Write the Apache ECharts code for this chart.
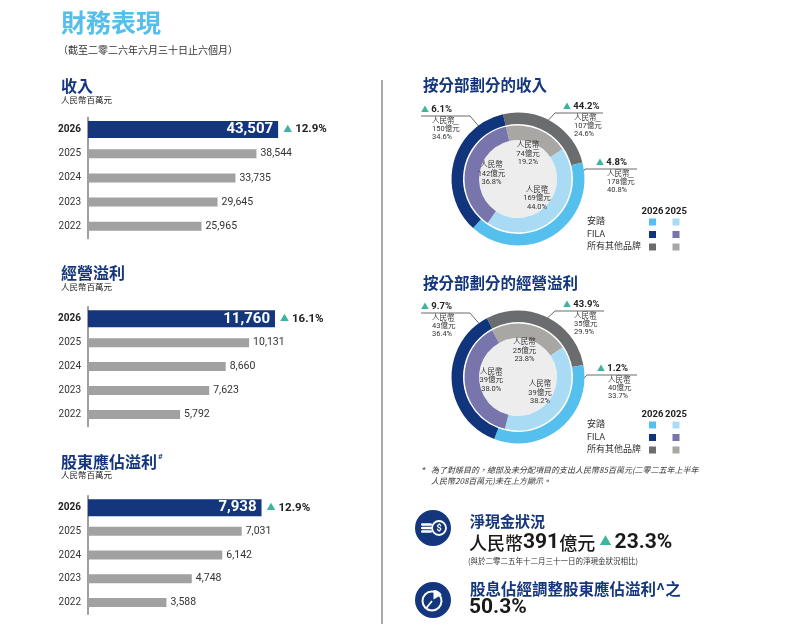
<!DOCTYPE html>
<html>
<head>
<meta charset="utf-8">
<script src="https://cdn.jsdelivr.net/npm/echarts@6/dist/echarts.min.js"></script>
<style>
  html, body { margin: 0; padding: 0; background: #fff; }
  #main { width: 791px; height: 624px; }
</style>
</head>
<body>
<div id="main"></div>
<script>
// ---- data ----
const years = ['2026', '2025', '2024', '2023', '2022'];
const revenue = [43507, 38544, 33735, 29645, 25965];
const revenueGrowth = '12.9%';
const opProfit = [11760, 10131, 8660, 7623, 5792];
const opGrowth = '16.1%';
const netProfit = [7938, 7031, 6142, 4748, 3588];
const netGrowth = '12.9%';

// segments: 安踏, FILA, 所有其他品牌 (人民幣億元, %)
const segments = ['安踏', 'FILA', '所有其他品牌'];
const segRev2026 = [178, 150, 107];
const segRevShare2026 = [40.8, 34.6, 24.6];
const segRevGrowth = [4.8, 6.1, 44.2];
const segRev2025 = [169, 142, 74];
const segRevShare2025 = [44.0, 36.8, 19.2];

const segOp2026 = [40, 43, 35];
const segOpShare2026 = [33.7, 36.4, 29.9];
const segOpGrowth = [1.2, 9.7, 43.9];
const segOp2025 = [39, 39, 25];
const segOpShare2025 = [38.2, 38.0, 23.8];

const netCash = 391;
const netCashGrowth = '23.3%';
const payoutRatio = '50.3%';

// ---- styles ----
const NAVY = '#13367C';
const TEAL = '#3DB49B';
const FONT = 'Roboto, "Noto Sans CJK TC", sans-serif';
const NARROW = '"Liberation Sans Narrow", Roboto, "Noto Sans CJK TC", sans-serif';
const CJK = '"Noto Sans CJK TC", sans-serif';
const c2026 = ['#55C0EE', '#11357C', '#6B6C6E'];
const c2025 = ['#A9DCF4', '#7775AC', '#A9A7A3'];
const pieOrder = [2, 0, 1]; // clockwise from the top: others, 安踏, FILA

const grids = [], xAxes = [], yAxes = [], series = [], graphics = [];

function fmt(v) { return v.toLocaleString('en-US'); }

function barBlock(i, values, growth, top, height, max, width) {
  grids.push({ left: 88, top: top, width: width, height: height });
  xAxes.push({ gridIndex: i, type: 'value', min: 0, max: max, show: false });
  for (let k = 0; k < 3; k++) {
    yAxes.push({
      gridIndex: i, type: 'category', data: years, inverse: true, show: k === 0,
      axisLine: { show: true, lineStyle: { color: '#7f7f7f', width: 1.5 } },
      axisTick: { show: false },
      axisLabel: {
        margin: 7, fontSize: 10, color: '#333', fontFamily: NARROW,
        formatter: (v, idx) => idx === 0 ? '{b|' + v + '}' : v,
        rich: { b: { fontSize: 10, fontWeight: 'bold', color: '#222', fontFamily: NARROW } }
      }
    });
  }
  const y0 = i * 3;
  series.push({
    type: 'bar', xAxisIndex: i, yAxisIndex: y0, barWidth: 17, silent: true,
    data: values.map((v, j) => j === 0 ? v : '-'),
    itemStyle: { color: NAVY },
    label: { show: true, position: 'insideRight', distance: 5, color: '#fff',
      fontSize: 15, fontWeight: 'bold', fontFamily: NARROW, formatter: p => fmt(p.value) }
  });
  series.push({
    type: 'bar', xAxisIndex: i, yAxisIndex: y0 + 1, barWidth: 9, silent: true,
    data: values.map((v, j) => j === 0 ? '-' : v),
    itemStyle: { color: '#A1A1A1' },
    label: { show: true, position: 'right', distance: 4, color: '#333',
      fontSize: 10.5, fontFamily: NARROW, formatter: p => fmt(p.value) }
  });
  series.push({
    type: 'bar', xAxisIndex: i, yAxisIndex: y0 + 2, barWidth: 17, silent: true,
    data: values.map((v, j) => j === 0 ? v : '-'),
    itemStyle: { color: 'rgba(0,0,0,0)' },
    label: { show: true, position: 'right', distance: 5,
      formatter: '{t|▲}{g|' + growth + '}',
      rich: {
        t: { color: TEAL, fontSize: 9, fontFamily: FONT, padding: [0, 3, 0, 0] },
        g: { color: '#222', fontSize: 11.5, fontWeight: 'bold', fontFamily: NARROW }
      } }
  });
}

barBlock(0, revenue, revenueGrowth, 117.4, 121, 50000, 218.5);
barBlock(1, opProfit, opGrowth, 306.8, 119.6, 15000, 238.5);
barBlock(2, netProfit, netGrowth, 495.8, 118.5, 10000, 218.6);

function txt(x, y, text, size, opts) {
  graphics.push({
    type: 'text', x: x, y: y, silent: true,
    style: Object.assign({
      text: text, fontSize: size, fontFamily: FONT, fill: '#333',
      align: 'left', verticalAlign: 'middle', textAlign: 'left', textVerticalAlign: 'middle'
    }, opts || {})
  });
}

// annotations: offsets relative to the donut centre (layout only)
function donut(cx, cy, start26, start25, amt26, share26, growth, amt25, share25, annot, legendY) {
  series.push({
    type: 'pie', center: [cx, cy], radius: [0, 39], silent: true, label: { show: false },
    itemStyle: { borderWidth: 0 },
    data: [{ value: 1, itemStyle: { color: '#EDEDED' } }]
  });
  series.push({
    type: 'pie', center: [cx, cy], radius: [39, 53.5], startAngle: start25, silent: true,
    label: { show: false }, itemStyle: { borderWidth: 0 },
    data: pieOrder.map(k => ({ name: segments[k], value: share25[k], itemStyle: { color: c2025[k] } }))
  });
  series.push({
    type: 'pie', center: [cx, cy], radius: [0, 48], startAngle: start25, silent: true,
    itemStyle: { borderWidth: 0, color: 'rgba(0,0,0,0)' },
    label: {
      show: true, position: 'inside', color: '#333', fontSize: 7.5, lineHeight: 8.5,
      fontFamily: NARROW,
      formatter: p => {
        const k = pieOrder[p.dataIndex];
        return '人民幣\n' + amt25[k] + '億元\n' + share25[k].toFixed(1) + '%';
      }
    },
    data: pieOrder.map(k => ({ name: segments[k], value: share25[k] }))
  });
  series.push({
    type: 'pie', center: [cx, cy], radius: [55, 66.5], startAngle: start26, silent: true,
    avoidLabelOverlap: false, itemStyle: { borderWidth: 0 },
    label: {
      show: true, position: 'outside',
      formatter: p => {
        const k = pieOrder[p.dataIndex];
        return '{t|▲}{g| ' + growth[k].toFixed(1) + '%}\n{gap| }\n{s|人民幣}\n{s|' + amt26[k] + '億元}\n{s|' + share26[k].toFixed(1) + '%}';
      },
      rich: {
        t: { color: TEAL, fontSize: 8, lineHeight: 9, fontFamily: FONT },
        g: { color: '#222', fontSize: 9.5, fontWeight: 'bold', lineHeight: 9, fontFamily: NARROW },
        gap: { fontSize: 2, lineHeight: 2.5 },
        s: { color: '#333', fontSize: 7.5, lineHeight: 8.2, fontFamily: NARROW, padding: [0, 0, 0, 11] }
      }
    },
    labelLine: { show: true, length: 8, length2: 8, lineStyle: { color: '#444', width: 0.8 } },
    labelLayout: p => {
      const a = annot[p.dataIndex];
      return {
        x: cx + a.tx, y: cy + a.ly - 10.5, align: 'left', verticalAlign: 'top',
        labelLinePoints: [[cx + a.ring[0], cy + a.ring[1]], [cx + a.elbow, cy + a.ly], [cx + a.end, cy + a.ly]]
      };
    },
    data: pieOrder.map(k => ({ name: segments[k], value: share26[k], itemStyle: { color: c2026[k] } }))
  });
  // legend
  const lx = [652.5, 676];
  txt(lx[0], legendY, '2026', 9.5, { fontWeight: 'bold', fill: '#222', fontFamily: NARROW, align: 'center', textAlign: 'center' });
  txt(lx[1], legendY, '2025', 9.5, { fontWeight: 'bold', fill: '#222', fontFamily: NARROW, align: 'center', textAlign: 'center' });
  const rowDy = [10, 22.5, 35];
  segments.forEach((s, k) => {
    const y = legendY + rowDy[k];
    txt(587, y, s, 9, { fill: '#333' });
    graphics.push({ type: 'rect', silent: true, shape: { x: lx[0] - 3.5, y: y - 3.5, width: 7, height: 7 }, style: { fill: c2026[k] } });
    graphics.push({ type: 'rect', silent: true, shape: { x: lx[1] - 3.5, y: y - 3.5, width: 7, height: 7 }, style: { fill: c2025[k] } });
  });
}

const annotRev = [
  { ring: [24, -52], elbow: 37, end: 85, ly: -66, tx: 45 },   // others
  { ring: [57, 4], elbow: 67, end: 119, ly: -10, tx: 78 },     // 安踏
  { ring: [-36, -49], elbow: -48, end: -97, ly: -63, tx: -97 } // FILA
];
const annotOp = [
  { ring: [24, -54], elbow: 37, end: 86, ly: -66, tx: 45 },
  { ring: [57, 10], elbow: 69, end: 119, ly: -2, tx: 79 },
  { ring: [-36, -50], elbow: -48, end: -97, ly: -64, tx: -97 }
];

donut(518, 179, 103, 103, segRev2026, segRevShare2026, segRevGrowth, segRev2025, segRevShare2025, annotRev, 212);
donut(518, 377, 118, 119, segOp2026, segOpShare2026, segOpGrowth, segOp2025, segOpShare2025, annotOp, 415);

// ---- headings ----
txt(61, 22, '財務表現', 25, { fontWeight: 'bold', fill: '#56BEEA', fontFamily: CJK });
txt(58, 50, '（截至二零二六年六月三十日止六個月）', 10, { fill: '#333', fontFamily: CJK });

txt(61, 86, '收入', 16, { fontWeight: 'bold', fill: NAVY, fontFamily: CJK });
txt(61, 99.5, '人民幣百萬元', 8.5, { fill: '#222', fontFamily: CJK });
txt(61, 273, '經營溢利', 16, { fontWeight: 'bold', fill: NAVY, fontFamily: CJK });
txt(61, 286.5, '人民幣百萬元', 8.5, { fill: '#222', fontFamily: CJK });
txt(61, 462, '股東應佔溢利', 16, { fontWeight: 'bold', fill: NAVY, fontFamily: CJK });
txt(158, 457, '#', 8, { fontWeight: 'bold', fill: NAVY });
txt(61, 475, '人民幣百萬元', 8.5, { fill: '#222', fontFamily: CJK });

txt(423, 85, '按分部劃分的收入', 15.5, { fontWeight: 'bold', fill: NAVY, fontFamily: CJK });
txt(423, 283, '按分部劃分的經營溢利', 15.5, { fontWeight: 'bold', fill: NAVY, fontFamily: CJK });

txt(422, 470, '*', 8, { fontStyle: 'italic', fill: '#333' });
txt(431, 470, '為了對賬目的，總部及未分配項目的支出人民幣85百萬元(二零二五年上半年', 8, { fontStyle: 'italic', fill: '#333', fontFamily: CJK });
txt(431, 481, '人民幣208百萬元)未在上方顯示。', 8, { fontStyle: 'italic', fill: '#333', fontFamily: CJK });

// divider
graphics.push({ type: 'line', silent: true, shape: { x1: 382, y1: 80, x2: 382, y2: 624 }, style: { stroke: '#555', lineWidth: 1 } });

// ---- bottom right highlights ----
graphics.push({ type: 'circle', silent: true, shape: { cx: 433, cy: 528, r: 18 }, style: { fill: NAVY } });
[524.5, 528, 531.5].forEach(y => {
  graphics.push({ type: 'rect', silent: true, shape: { x: 421, y: y - 1.3, width: 11, height: 2.6, r: 1.3 }, style: { fill: '#fff' } });
});
graphics.push({ type: 'circle', silent: true, shape: { cx: 439, cy: 528, r: 7 }, style: { fill: NAVY, stroke: '#fff', lineWidth: 1.8 } });
txt(439, 528.5, '$', 9, { fill: '#fff', fontWeight: 'bold', align: 'center', textAlign: 'center' });

graphics.push({ type: 'circle', silent: true, shape: { cx: 433, cy: 600, r: 18 }, style: { fill: NAVY } });
graphics.push({ type: 'circle', silent: true, shape: { cx: 432, cy: 601, r: 9.5 }, style: { fill: 'none', stroke: '#fff', lineWidth: 2 } });
graphics.push({ type: 'sector', silent: true, shape: { cx: 433.5, cy: 599.5, r0: 0, r: 9.5, startAngle: -Math.PI / 2, endAngle: -Math.PI / 6, clockwise: true }, style: { fill: '#fff' } });
graphics.push({ type: 'polyline', silent: true, shape: { points: [[432, 601], [426, 608.5]] }, style: { fill: 'none', stroke: '#fff', lineWidth: 1.8 } });

txt(470, 521, '淨現金狀況', 15, { fontWeight: 'bold', fill: NAVY, fontFamily: CJK });
txt(469, 543, '{c|人民幣}{n|' + netCash + '}{c|億元} {t|▲}{n|' + netCashGrowth + '}', 18, {
  fill: '#1a1a1a',
  rich: {
    c: { fontSize: 18, fontFamily: CJK, fontWeight: 500, fill: '#1a1a1a' },
    n: { fontSize: 21, fontFamily: NARROW, fontWeight: 'bold', fill: '#1a1a1a' },
    t: { fontSize: 12, fill: TEAL, fontFamily: FONT, padding: [0, 3, 0, 0] }
  }
});
txt(468, 561, '(與於二零二五年十二月三十一日的淨現金狀況相比)', 7.5, { fill: '#333', fontFamily: CJK });
txt(470, 589, '股息佔經調整股東應佔溢利^之', 15.5, { fontWeight: 'bold', fill: NAVY, fontFamily: CJK });
txt(469, 608, payoutRatio, 21, { fill: '#1a1a1a', fontWeight: 'bold', fontFamily: NARROW });

const chart = echarts.init(document.getElementById('main'));
chart.setOption({
  animation: false,
  grid: grids,
  xAxis: xAxes,
  yAxis: yAxes,
  series: series,
  graphic: graphics
});
</script>
</body>
</html>
